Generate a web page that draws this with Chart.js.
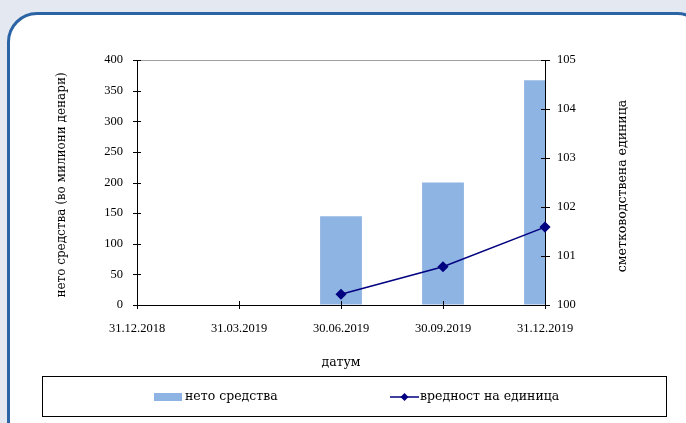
<!DOCTYPE html>
<html>
<head>
<meta charset="utf-8">
<script src="https://cdn.jsdelivr.net/npm/chart.js@4.4.1/dist/chart.umd.min.js"></script>
<style>
    html, body { margin: 0; padding: 0; }
    body { width: 686px; height: 423px; background: #e3e8f1; overflow: hidden; position: relative; }
    #frame {
        position: absolute; left: 7px; top: 12px; width: 700px; height: 440px;
        background: #fff; border: 3px solid #2a64a4; border-radius: 30px; box-sizing: border-box;
    }
    #wrap { position: absolute; left: 0; top: 0; width: 686px; height: 423px; }
</style>
</head>
<body>
<div id="frame"></div>
<div id="wrap"><canvas id="chart" width="686" height="423"></canvas></div>
<script>
// Data
const dates = ['31.12.2018', '31.03.2019', '30.06.2019', '30.09.2019', '31.12.2019'];
const netAssets = [null, null, 145, 200, 367];        // нето средства (милиони денари)
const unitValue = [null, null, 100.22, 100.78, 101.59]; // вредност на единица

const NUM_FONT = '"Liberation Serif", serif';
const TXT_FONT = '"DejaVu Serif", serif';
const BAR_COLOR = '#8eb4e3';
const LINE_COLOR = '#000080';

// Draws tick marks crossing the axes, the axis titles and the boxed legend
const decorations = {
    id: 'decorations',
    afterDraw(chart) {
        const ctx = chart.ctx;
        const area = chart.chartArea;
        const { x, y, y1 } = chart.scales;

        ctx.save();
        ctx.strokeStyle = '#000';
        ctx.lineWidth = 1;
        ctx.beginPath();
        y.ticks.forEach((t, i) => {
            const py = Math.round(y.getPixelForTick(i)) + 0.5;
            ctx.moveTo(area.left - 4, py);
            ctx.lineTo(area.left + 4, py);
        });
        y1.ticks.forEach((t, i) => {
            const py = Math.round(y1.getPixelForTick(i)) + 0.5;
            ctx.moveTo(area.right - 4, py);
            ctx.lineTo(area.right + 5, py);
        });
        x.ticks.forEach((t, i) => {
            const px = Math.round(x.getPixelForTick(i)) + 0.5;
            ctx.moveTo(px, area.bottom - 4);
            ctx.lineTo(px, area.bottom + 4);
        });
        ctx.stroke();

        // axis titles
        ctx.fillStyle = '#000';
        ctx.font = '12.5px ' + TXT_FONT;
        ctx.textAlign = 'center';
        ctx.textBaseline = 'middle';
        ctx.fillText('датум', (area.left + area.right) / 2, 363);

        ctx.save();
        ctx.translate(623, 186);
        ctx.rotate(-Math.PI / 2);
        ctx.fillText('сметководствена единица', 0, 0);
        ctx.restore();

        ctx.save();
        ctx.font = '12px ' + TXT_FONT;
        ctx.translate(62, 185);
        ctx.rotate(-Math.PI / 2);
        ctx.fillText('нето средства (во милиони денари)', 0, 0);
        ctx.restore();

        // legend box
        ctx.strokeRect(42.5, 376.5, 624, 40);
        const ds = chart.data.datasets;
        ctx.textAlign = 'left';
        ctx.fillStyle = ds[0].backgroundColor;
        ctx.fillRect(154, 393, 28, 8);
        ctx.fillStyle = '#000';
        ctx.fillText(ds[0].label, 185, 397);

        ctx.strokeStyle = ds[1].borderColor;
        ctx.lineWidth = 1.5;
        ctx.beginPath();
        ctx.moveTo(390, 397);
        ctx.lineTo(419, 397);
        ctx.stroke();
        ctx.fillStyle = ds[1].borderColor;
        ctx.beginPath();
        ctx.moveTo(404.5, 393);
        ctx.lineTo(408.5, 397);
        ctx.lineTo(404.5, 401);
        ctx.lineTo(400.5, 397);
        ctx.closePath();
        ctx.fill();
        ctx.fillStyle = '#000';
        ctx.fillText(ds[1].label, 420, 397);
        ctx.restore();
    }
};

new Chart(document.getElementById('chart'), {
    data: {
        labels: dates,
        datasets: [
            {
                type: 'bar',
                label: 'нето средства',
                data: netAssets,
                backgroundColor: BAR_COLOR,
                yAxisID: 'y',
                barPercentage: 0.41,
                categoryPercentage: 1,
                order: 2
            },
            {
                type: 'line',
                label: 'вредност на единица',
                data: unitValue,
                borderColor: LINE_COLOR,
                backgroundColor: LINE_COLOR,
                borderWidth: 1.5,
                pointStyle: 'rectRot',
                pointRadius: 4.5,
                pointBackgroundColor: LINE_COLOR,
                pointBorderColor: LINE_COLOR,
                yAxisID: 'y1',
                spanGaps: false,
                clip: false,
                order: 1
            }
        ]
    },
    options: {
        responsive: false,
        animation: false,
        layout: { padding: { top: 60, left: 0, right: 0, bottom: 0 } },
        plugins: { legend: { display: false }, tooltip: { enabled: false } },
        scales: {
            x: {
                offset: false,
                afterFit: s => { s.height = 118; },
                grid: { display: false, drawTicks: false },
                border: { display: true, color: '#000' },
                ticks: { color: '#000', font: { family: NUM_FONT, size: 12.5 }, padding: 16, maxRotation: 0, autoSkip: false }
            },
            y: {
                position: 'left',
                min: 0,
                max: 400,
                afterFit: s => { s.width = 137; },
                grid: {
                    drawTicks: false,
                    color: c => (c.tick && c.tick.value === 400 ? '#a0a0a0' : 'transparent')
                },
                border: { display: true, color: '#000' },
                ticks: { stepSize: 50, color: '#000', font: { family: NUM_FONT, size: 12.5 }, padding: 14 }
            },
            y1: {
                position: 'right',
                min: 100,
                max: 105,
                afterFit: s => { s.width = 141; },
                grid: { display: false, drawTicks: false },
                border: { display: true, color: '#000' },
                ticks: { stepSize: 1, color: '#000', font: { family: NUM_FONT, size: 12.5 }, padding: 12 }
            }
        }
    },
    plugins: [decorations]
});
</script>
</body>
</html>
